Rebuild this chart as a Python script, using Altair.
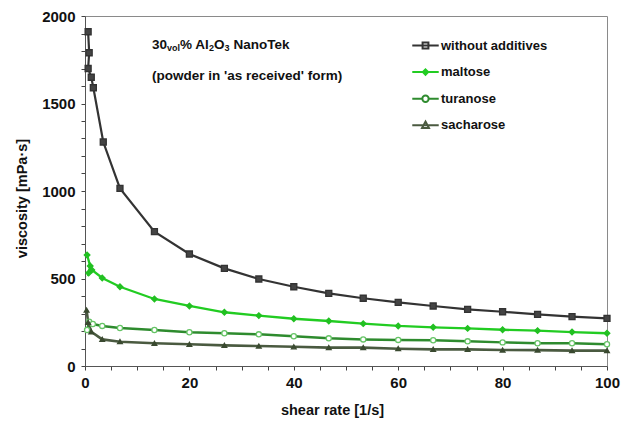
import altair as alt
import pandas as pd

series_names = ["without additives", "maltose", "turanose", "sacharose"]

# shear rate values [1/s]
early_without_x = [0.6, 0.8, 0.6, 1.2, 1.6, 3.5]
early_without_y = [1910, 1790, 1700, 1650, 1590, 1280]
early_maltose_x = [0.4, 1.0, 0.7, 1.3, 3.3]
early_maltose_y = [634, 571, 531, 549, 503]
early_turanose_x = [0.4, 0.8, 1.5, 3.3]
early_turanose_y = [206, 253, 240, 229]
early_sacharose_x = [0.3, 0.6, 1.2, 3.3]
early_sacharose_y = [320, 250, 196, 152]

bulk_x = [6.7, 13.3, 20, 26.7, 33.3, 40, 46.7, 53.3, 60, 66.7, 73.3, 80, 86.7, 93.3, 100]
without_y = [1015, 768, 640, 558, 497, 453, 415, 387, 364, 343, 324, 310, 295, 282, 272]
maltose_y = [453, 383, 343, 307, 288, 270, 257, 242, 229, 221, 215, 207, 202, 194, 187]
turanose_y = [217, 206, 193, 187, 181, 170, 158, 152, 149, 147, 141, 135, 130, 130, 124]
sacharose_y = [139, 130, 124, 118, 114, 110, 105, 105, 99, 95, 95, 91, 91, 88, 88]

x_tick_values = list(range(0, 101, 5))
y_tick_values = list(range(0, 2001, 100))

line_colors = ["#333333", "#22cc22", "#2e8b2e", "#4a5a40"]
line_widths = [2.2, 2.6, 2.6, 2.0]
marker_fill = ["#444444", "#22c022", "#ffffff", "#3a4a30"]
marker_stroke = ["#333333", "#22c022", "#66c466", "#3a4a30"]
marker_shapes = ["square", "diamond", "circle", "triangle-up"]
marker_sizes = [36, 22, 40, 36]

legend_paths = [
    "M-1,0L1,0M-0.22,-0.22L0.22,-0.22L0.22,0.22L-0.22,0.22Z",
    "M-1,0L1,0M0,-0.2L0.2,0L0,0.2L-0.2,0Z",
    "M-1,0H-0.24M0.24,0H1M-0.24,0A0.24,0.24,0,1,0,0.24,0A0.24,0.24,0,1,0,-0.24,0Z",
    "M-1,0L1,0M0,-0.28L0.26,0.2L-0.26,0.2Z",
]

rows = []
groups = [
    (early_without_x, early_without_y, without_y),
    (early_maltose_x, early_maltose_y, maltose_y),
    (early_turanose_x, early_turanose_y, turanose_y),
    (early_sacharose_x, early_sacharose_y, sacharose_y),
]
for name, (ex, ey, by) in zip(series_names, groups):
    xs = list(ex) + list(bulk_x)
    ys = list(ey) + list(by)
    for i, (xv, yv) in enumerate(zip(xs, ys)):
        rows.append({"series": name, "rate": xv, "visc": yv, "ord": i})
df = pd.DataFrame(rows)
leg_df = pd.DataFrame({"leg": series_names})

FONT = "Liberation Sans"

xaxis = alt.Axis(values=x_tick_values, format="d",
                 labelExpr="datum.value % 20 == 0 ? datum.label : ''",
                 labelOverlap=False, ticks=True, tickSize=4, tickWidth=1,
                 title="shear rate [1/s]", grid=False,
                 labelPadding=5, titleX=247, titleY=44,
                 titleBaseline="middle", titleAnchor="start",
                 titleAlign="center")
yaxis = alt.Axis(values=y_tick_values, format="d",
                 labelExpr="datum.value % 500 == 0 ? datum.label : ''",
                 labelOverlap=False, ticks=True, tickSize=4, tickWidth=1,
                 title="viscosity  [mPa·s]", grid=False,
                 labelPadding=6, titleX=-63, titleY=182,
                 titleBaseline="middle", titleAlign="center",
                 titleAnchor="start")

xenc = alt.X("rate:Q", scale=alt.Scale(domain=[0, 100], nice=False), axis=xaxis)
yenc = alt.Y("visc:Q", scale=alt.Scale(domain=[0, 2000], nice=False), axis=yaxis)

lines = alt.Chart(df).mark_line().encode(
    x=xenc, y=yenc,
    color=alt.Color("series:N", scale=alt.Scale(domain=series_names, range=line_colors), legend=None),
    strokeWidth=alt.StrokeWidth("series:N", scale=alt.Scale(domain=series_names, range=line_widths), legend=None),
    order="ord:Q",
)

points = alt.Chart(df).mark_point(filled=True, strokeWidth=1.3, opacity=1).encode(
    x=xenc, y=yenc,
    shape=alt.Shape("series:N", scale=alt.Scale(domain=series_names, range=marker_shapes), legend=None),
    fill=alt.Fill("series:N", scale=alt.Scale(domain=series_names, range=marker_fill), legend=None),
    stroke=alt.Stroke("series:N", scale=alt.Scale(domain=series_names, range=marker_stroke), legend=None),
    size=alt.Size("series:N", scale=alt.Scale(domain=series_names, range=marker_sizes), legend=None),
)

leg = alt.Legend(title=None, orient="none", legendX=326, legendY=15,
                 symbolSize=700, symbolStrokeWidth=2, labelFont=FONT,
                 labelFontSize=13, labelFontWeight="bold", labelColor="#111111",
                 labelOffset=1, rowPadding=4.6)

legend_layer = alt.Chart(leg_df).mark_point(filled=True, opacity=0, size=700).encode(
    x=alt.value(0), y=alt.value(0),
    shape=alt.Shape("leg:N", scale=alt.Scale(domain=series_names, range=legend_paths), legend=leg),
    fill=alt.Fill("leg:N", scale=alt.Scale(domain=series_names, range=[line_colors[0], line_colors[1], "#ffffff", line_colors[3]]), legend=leg),
    stroke=alt.Stroke("leg:N", scale=alt.Scale(domain=series_names, range=line_colors), legend=leg),
)

ann1_parts = pd.DataFrame({
    "t": ["30", "vol", "% Al", "2", "O", "3", "NanoTek"],
    "dx": [0, 15, 28, 57, 62, 72.5, 81.5],
    "dy": [0, 3, 0, 3, 0, 3, 0],
    "fs": [13.5, 9, 13.5, 9, 13.5, 9, 13.5],
})
ann_base = alt.Chart(ann1_parts).transform_calculate(
    px="67 + datum.dx", py="29 + datum.dy"
)
ann1 = ann_base.mark_text(font=FONT, fontWeight="bold", align="left",
                          baseline="middle", color="#111111").encode(
    x=alt.X("px:Q", scale=None), y=alt.Y("py:Q", scale=None),
    text="t:N", size=alt.Size("fs:Q", scale=None, legend=None),
)
ann2 = alt.Chart(pd.DataFrame({"t": ["(powder in 'as received' form)"]})).mark_text(
    font=FONT, fontWeight="bold", fontSize=13.5, align="left", baseline="middle",
    color="#111111").encode(x=alt.value(67), y=alt.value(60), text="t:N")

chart = alt.layer(lines, points, legend_layer, ann1, ann2).resolve_scale(
    shape="independent", fill="independent", stroke="independent",
    size="independent",
).properties(
    width=522, height=350,
    autosize=alt.AutoSizeParams(type="none"),
    padding={"left": 85, "top": 16, "right": 20, "bottom": 64},
).configure(font=FONT).configure_view(stroke="#8a8a8a", strokeWidth=1).configure_axis(
    labelFont=FONT, labelFontSize=15, labelFontWeight="bold", labelColor="#111111",
    titleFont=FONT, titleFontSize=14.5, titleFontWeight="bold", titleColor="#111111",
    domainColor="#555555", tickColor="#444444", labelOverlap=False, ticks=True,
    tickSize=4, labelFlush=False, labelBound=False,
)

chart.save("out.html", embed_options={"renderer": "svg", "actions": False})
